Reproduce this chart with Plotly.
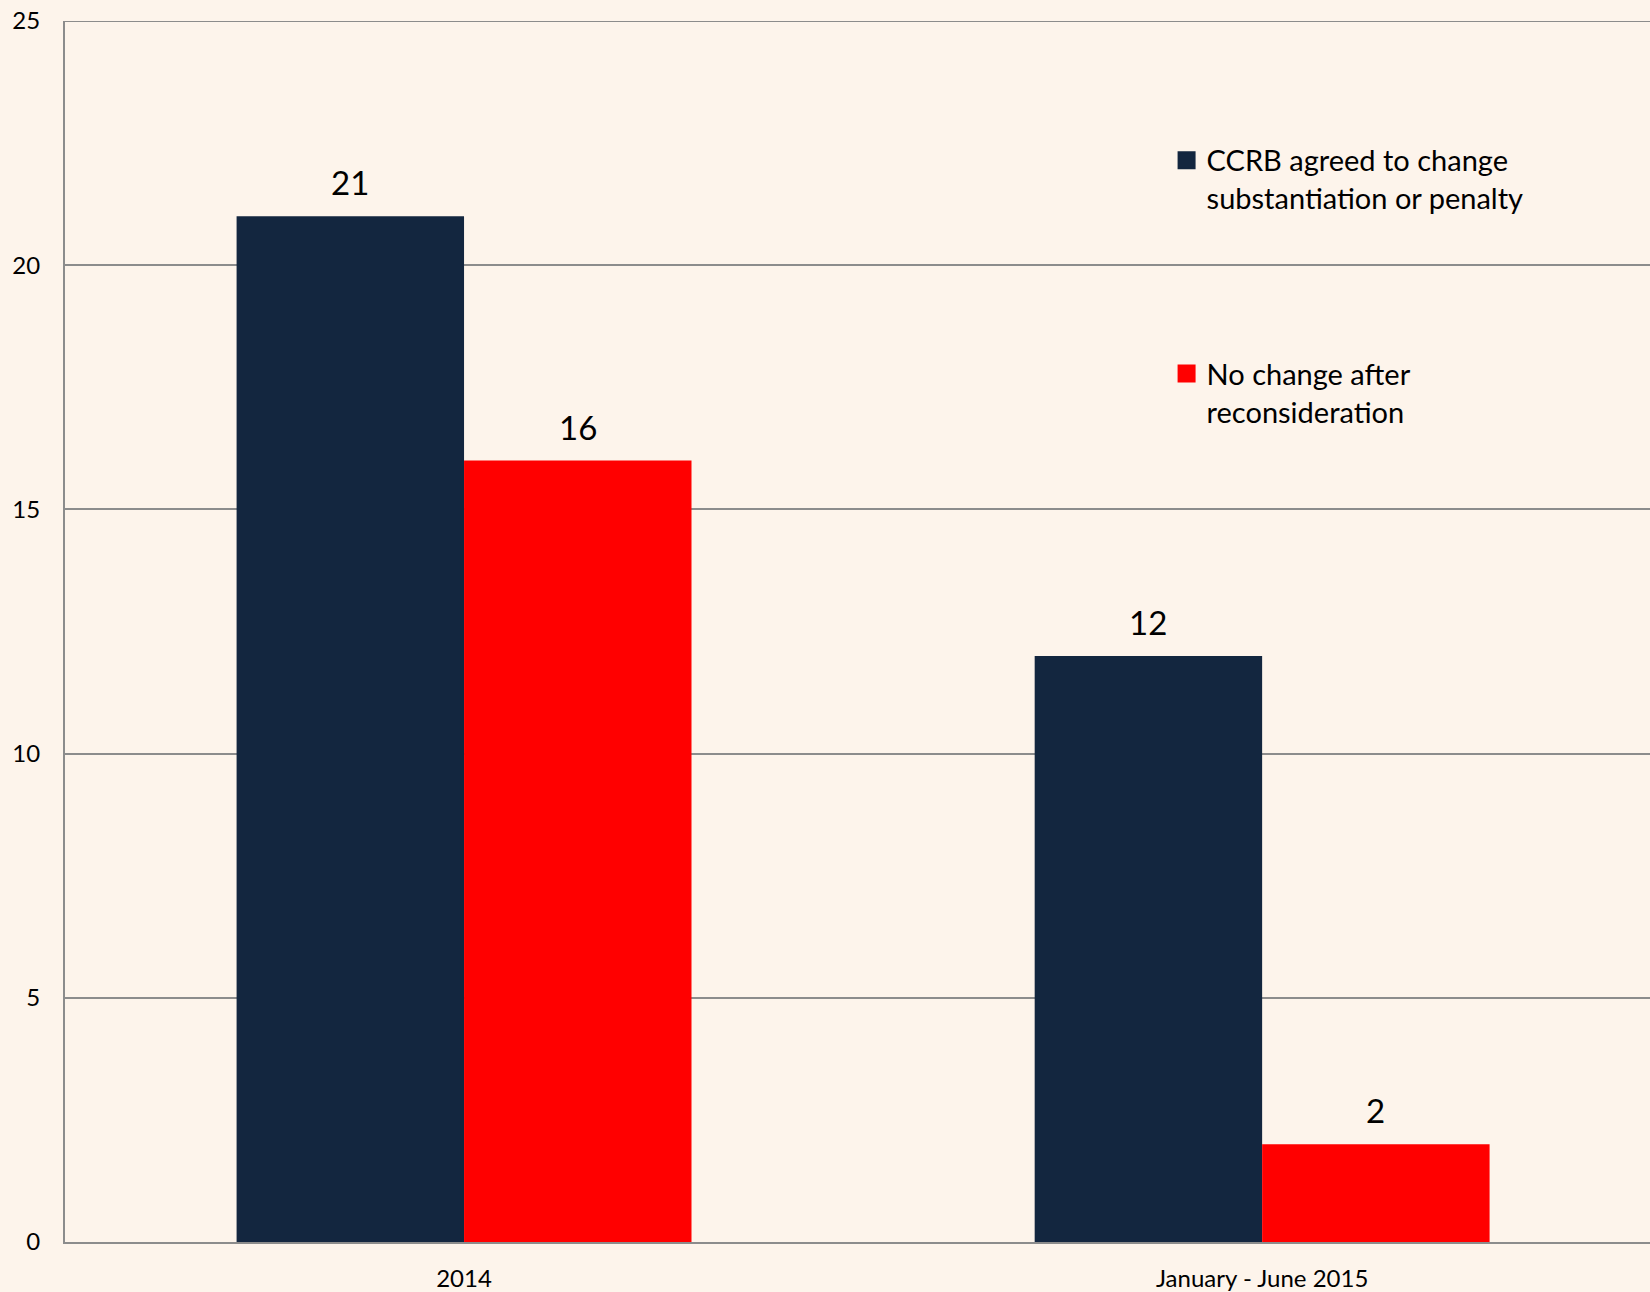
import plotly.graph_objects as go

categories = ["2014", "January - June 2015"]
agreed = [21, 12]
no_change = [16, 2]
series_names = ["CCRB agreed to change<br>substantiation or penalty", "No change after<br>reconsideration"]
y_ticks = [0, 5, 10, 15, 20, 25]

BG = "#FDF4EB"
NAVY = "#13263F"
RED = "#FF0000"
GRID = "#8C8C8C"
FONT = "Lato"
BARGAP = 0.43

fig = go.Figure()
series = [(agreed, NAVY, series_names[0], "a"), (no_change, RED, series_names[1], "b")]
for vals, col, name, grp in series:
    fig.add_trace(go.Bar(x=categories, y=vals, name=name, marker_color=col,
                         marker_line_width=0, showlegend=False, legendgroup=grp))
for vals, col, name, grp in series:
    fig.add_trace(go.Scatter(x=[None], y=[None], mode="markers", name=name, legendgroup=grp,
                             marker=dict(symbol="square", size=16, color=col,
                                         line=dict(width=2, color=col))))

# value labels above bars, positioned from data and the bar grouping
w = (1 - BARGAP) / 2
for s_idx, (vals, col, name, grp) in enumerate(series):
    for c_idx, v in enumerate(vals):
        fig.add_annotation(x=c_idx - w / 2 + s_idx * w, y=v, xref="x", yref="y",
                           text=str(v), showarrow=False, yanchor="bottom", yshift=12,
                           font=dict(size=33, family=FONT, color="black"))

fig.update_layout(
    width=1650, height=1292,
    margin=dict(l=65, r=0, t=21, b=50),
    paper_bgcolor=BG, plot_bgcolor=BG,
    barmode="group", bargap=BARGAP, bargroupgap=0,
    font=dict(family=FONT, color="black"),
    showlegend=True,
    legend=dict(x=0.695, y=0.9068, xanchor="left", yanchor="top", bgcolor="rgba(0,0,0,0)",
                font=dict(size=29, family=FONT, color="black"), valign="top",
                tracegroupgap=135, traceorder="grouped"),
    xaxis=dict(range=[-0.5, 1.486], showgrid=False, showline=True, linecolor=GRID, linewidth=2,
               ticks="", tickfont=dict(size=24, family=FONT, color="black"), ticklabelstandoff=14),
    yaxis=dict(range=[0, 25], tickvals=y_ticks, showgrid=True, gridcolor=GRID, gridwidth=1.5,
               showline=True, linecolor=GRID, linewidth=2, zeroline=False, ticks="",
               tickfont=dict(size=24, family=FONT, color="black"), ticklabelstandoff=18),
)
fig.add_shape(type="line", xref="paper", yref="y", x0=0, x1=1, y0=25, y1=25,
              line=dict(color=GRID, width=2))

fig.write_html("out.html", config={"displayModeBar": False},
               post_script="document.body.style.margin='0';document.body.style.background='%s';" % BG)
